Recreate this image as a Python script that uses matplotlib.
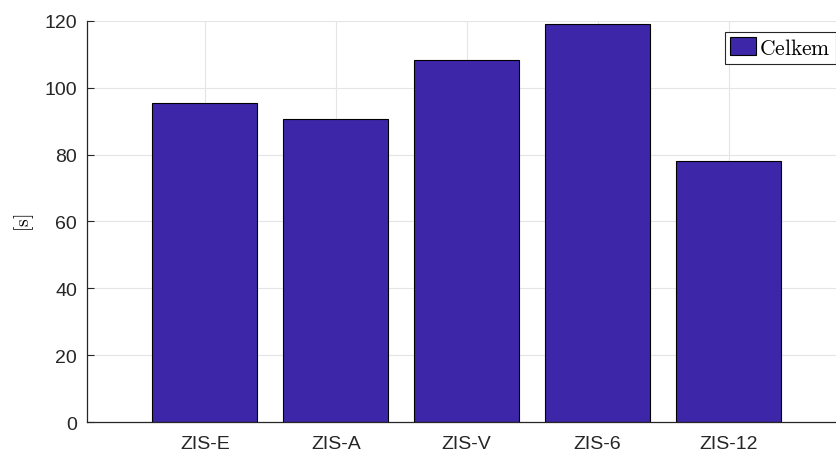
import matplotlib
matplotlib.use("Agg")
import matplotlib.pyplot as plt
import numpy as np

# Celkový čas pro jednotlivé varianty
categories = ["ZIS-E", "ZIS-A", "ZIS-V", "ZIS-6", "ZIS-12"]
celkem = [95.3, 90.5, 108.3, 119.0, 78.0]
y_ticks = [0, 20, 40, 60, 80, 100, 120]

bar_color = "#3e26a8"
axis_color = "#262626"

plt.rcParams["font.family"] = ["Liberation Sans", "DejaVu Sans"]
plt.rcParams["mathtext.fontset"] = "cm"


def main() -> None:
    fig = plt.figure(figsize=(8.36, 4.52), dpi=100)
    ax = fig.add_axes([0.104, 0.0635, 0.896, 0.8885])

    positions = np.arange(1, len(categories) + 1)
    ax.bar(
        positions,
        celkem,
        width=0.8,
        color=bar_color,
        edgecolor="black",
        linewidth=0.8,
        label=r"$\mathrm{Celkem}$",
        zorder=3,
    )

    ax.set_xlim(0.1, 5.82)
    ax.set_ylim(0, 120)
    ax.set_xticks(positions)
    ax.set_xticklabels(categories)
    ax.set_yticks(y_ticks)

    ax.grid(True, color="#e5e5e5", linewidth=0.8, zorder=0)
    ax.set_axisbelow(True)

    for side in ("top", "right"):
        ax.spines[side].set_visible(False)
    for side in ("left", "bottom"):
        ax.spines[side].set_color(axis_color)
        ax.spines[side].set_linewidth(0.9)
        ax.spines[side].set_zorder(4)

    ax.tick_params(
        axis="both",
        direction="in",
        length=5,
        width=0.8,
        colors=axis_color,
        labelsize=14,
    )
    ax.tick_params(axis="y", pad=7)
    ax.tick_params(axis="x", pad=9)

    ax.set_ylabel(r"$[\mathrm{s}]$", fontsize=14, labelpad=6)

    legend = ax.legend(
        loc="upper right",
        bbox_to_anchor=(1.0, 0.973),
        borderaxespad=0,
        fontsize=15.5,
        fancybox=False,
        framealpha=1,
        edgecolor=axis_color,
        handlelength=1.2,
        handleheight=0.95,
        handletextpad=0.15,
        borderpad=0.25,
    )
    legend.get_frame().set_linewidth(0.8)

    fig.savefig("out.png", dpi=100)
    plt.close(fig)


if __name__ == "__main__":
    main()
